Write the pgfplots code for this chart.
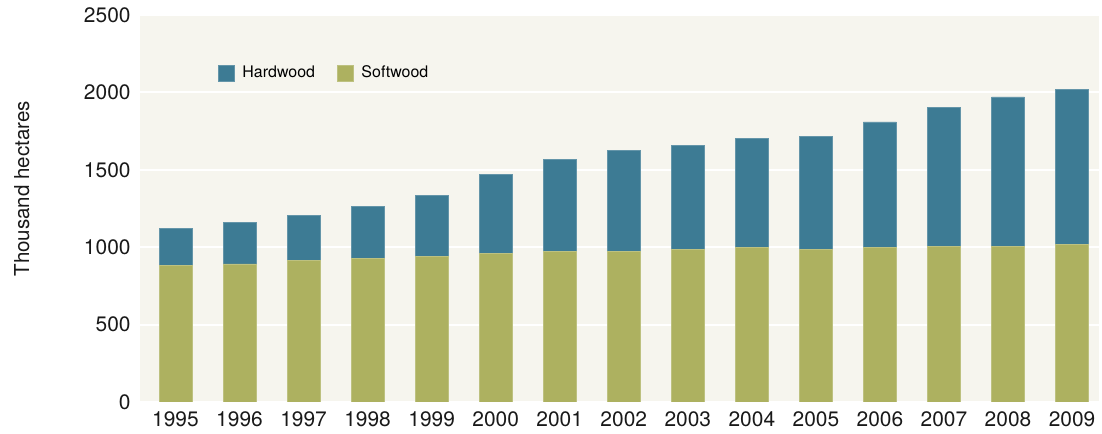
\documentclass[border=0pt]{standalone}
\usepackage{fontspec}
\setmainfont{TeX Gyre Heros}
\usepackage{pgfplots}
\pgfplotsset{compat=1.18}
\definecolor{hard}{HTML}{3D7B94}
\definecolor{soft}{HTML}{ADB160}
\definecolor{bgc}{HTML}{F6F5EE}
\begin{document}
\begin{tikzpicture}
\begin{axis}[
  scale only axis,
  width=481pt, height=194pt,
  ybar stacked, bar width=16.5pt,
  xmin=-0.56, xmax=14.42,
  ymin=0, ymax=2500,
  xtick={0,...,14},
  xticklabels={1995,1996,1997,1998,1999,2000,2001,2002,2003,2004,2005,2006,2007,2008,2009},
  ytick={0,500,1000,1500,2000,2500},
  axis line style={draw=none},
  major tick length=0pt,
  axis background/.style={fill=bgc},
  ymajorgrids, grid style={white, line width=1pt},
  /pgf/number format/assume math mode=true,
  /pgf/number format/1000 sep={},
  tick label style={font=\fontsize{10.5}{12}\selectfont, text=black!90},
  yticklabel style={xshift=-1pt},
  xticklabel style={yshift=-1.5pt},
  ylabel={Thousand hectares},
  ylabel style={font=\fontsize{10.3}{12}\selectfont, text=black!90,
    at={(axis description cs:-0.1227,0.551)}, anchor=center},
  legend style={draw=none, fill=none, at={(axis description cs:0.075,0.85)}, anchor=west,
    font=\fontsize{8}{9}\selectfont, column sep=2pt,
    /tikz/every even column/.append style={column sep=9pt}},
  legend columns=2,
  reverse legend,
  legend image code/.code={\fill[#1] (0pt,-4pt) rectangle (8pt,4pt);},
]
\addplot+[fill=soft, draw=soft!80!white, line width=0.3pt] coordinates {
(0,880) (1,891) (2,915) (3,926) (4,939) (5,961) (6,973) (7,973) (8,984) (9,997) (10,984) (11,997) (12,1007) (13,1007) (14,1020)};
\addlegendentry{Softwood}
\addplot+[fill=hard, draw=hard!80!white, line width=0.3pt] coordinates {
(0,243) (1,269) (2,290) (3,337) (4,393) (5,510) (6,593) (7,651) (8,673) (9,705) (10,731) (11,812) (12,895) (13,964) (14,998)};
\addlegendentry{Hardwood}
\end{axis}
\path (current axis.south west) ++(-70pt,-14.5pt) rectangle ++(551pt,216pt);
\end{tikzpicture}
\end{document}
